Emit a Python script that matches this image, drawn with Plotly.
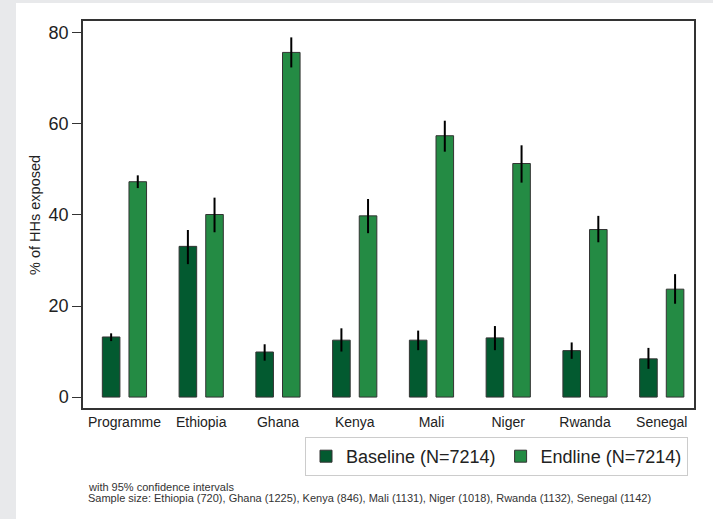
import plotly.graph_objects as go

categories = ["Programme", "Ethiopia", "Ghana", "Kenya", "Mali", "Niger", "Rwanda", "Senegal"]
baseline = [13.2, 33.1, 9.9, 12.5, 12.5, 13.0, 10.2, 8.4]
baseline_hi = [14.0, 36.7, 11.6, 15.1, 14.6, 15.6, 12.0, 10.8]
baseline_lo = [12.3, 29.2, 8.0, 10.0, 10.3, 10.3, 8.4, 6.2]
endline = [47.3, 40.1, 75.7, 39.8, 57.4, 51.3, 36.8, 23.7]
endline_hi = [48.7, 43.8, 79.0, 43.5, 60.7, 55.3, 39.8, 27.0]
endline_lo = [45.9, 36.2, 72.4, 36.0, 53.9, 47.1, 34.0, 20.5]
yticks = [0, 20, 40, 60, 80]

FONT = "Liberation Sans, Arial, sans-serif"
W, H = 713, 519
L, R, T, B = 83, 694, 21, 408
GRAY = "#e8e9eb"


def px_x(p):
    return (p - L) / (R - L)


def px_y(p):
    return (B - p) / (B - T)


def err(vals, hi, lo):
    return dict(type="data", symmetric=False,
                array=[h - v for h, v in zip(hi, vals)],
                arrayminus=[v - l for l, v in zip(lo, vals)],
                color="black", thickness=2, width=0)


fig = go.Figure()
fig.add_trace(go.Bar(x=categories, y=baseline, name="Baseline (N=7214)",
                     marker=dict(color="#035a30", line=dict(color="#333333", width=1)),
                     error_y=err(baseline, baseline_hi, baseline_lo)))
fig.add_trace(go.Bar(x=categories, y=endline, name="Endline (N=7214)",
                     marker=dict(color="#248b44", line=dict(color="#333333", width=1)),
                     error_y=err(endline, endline_hi, endline_lo)))

fig.update_layout(
    width=W, height=H,
    margin=dict(l=L, r=W - R, t=T, b=H - B, pad=0),
    paper_bgcolor="white",
    plot_bgcolor="white",
    font=dict(family=FONT, color="#222222"),
    barmode="group",
    bargap=0.306,
    bargroupgap=0.34,
    showlegend=True,
    legend=dict(orientation="h", x=px_x(688), xanchor="right", y=px_y(437), yanchor="top",
                font=dict(size=18, family=FONT, color="#222222"),
                bordercolor="#cccccc", borderwidth=1, bgcolor="white",
                itemwidth=30, traceorder="normal"),
    shapes=[
        dict(type="rect", xref="paper", yref="paper", layer="below",
             x0=px_x(-5), x1=px_x(16), y0=px_y(530), y1=px_y(-5),
             fillcolor=GRAY, line=dict(width=0)),
        dict(type="rect", xref="paper", yref="paper", layer="below",
             x0=px_x(-5), x1=px_x(720), y0=px_y(3), y1=px_y(-5),
             fillcolor=GRAY, line=dict(width=0)),
    ],
    annotations=[
        dict(text="% of HHs exposed", textangle=-90, xref="paper", yref="paper",
             x=px_x(35), y=px_y(215), xanchor="center", yanchor="middle", showarrow=False,
             font=dict(size=14.5, family=FONT, color="#222222")),
        dict(text="with 95% confidence intervals", xref="paper", yref="paper",
             x=px_x(86), y=px_y(487), xanchor="left", yanchor="middle", showarrow=False,
             font=dict(size=11, family=FONT, color="#333333")),
        dict(text="Sample size: Ethiopia (720), Ghana (1225), Kenya (846), Mali (1131), Niger (1018), Rwanda (1132), Senegal (1142)",
             xref="paper", yref="paper",
             x=px_x(86), y=px_y(498), xanchor="left", yanchor="middle", showarrow=False,
             font=dict(size=11, family=FONT, color="#333333")),
    ],
)

fig.update_xaxes(range=[-0.54, 7.42], showline=True, linecolor="#333333", linewidth=1.5,
                 mirror=True, ticks="", showgrid=False,
                 tickfont=dict(size=14, family=FONT, color="#222222"))
fig.update_yaxes(range=[-2.4, 82.6], tickvals=yticks, showline=True, linecolor="#333333",
                 linewidth=1.5, mirror=True, ticks="outside", ticklen=9, tickcolor="#333333",
                 showgrid=False, zeroline=False,
                 tickfont=dict(size=18, family=FONT, color="#222222"))

fig.write_html("out.html", config={"displayModeBar": False},
               post_script="document.body.style.margin='0';document.body.style.padding='0';")
